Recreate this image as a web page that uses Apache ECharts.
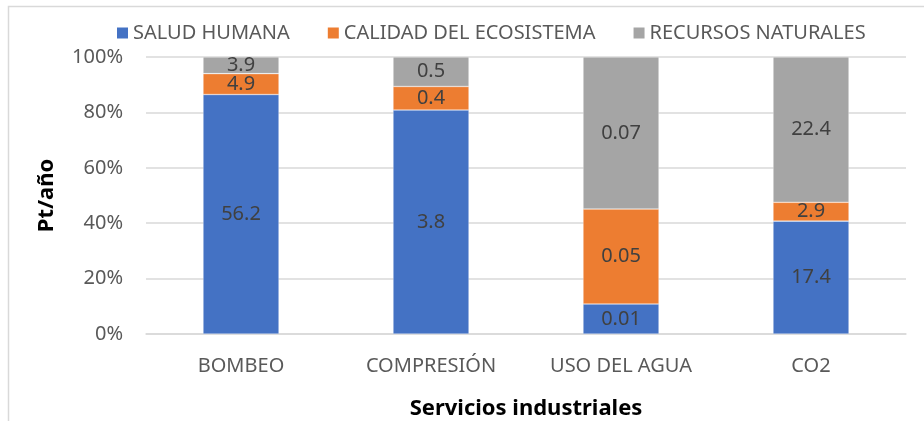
<!DOCTYPE html>
<html><head><meta charset="utf-8">
<script src="https://cdn.jsdelivr.net/npm/echarts@6/dist/echarts.min.js"></script>
<style>html,body{margin:0;padding:0;background:#fff}#c{width:924px;height:421px}</style>
</head><body><div id="c"></div>
<script>
const categories = ['BOMBEO', 'COMPRESIÓN', 'USO DEL AGUA', 'CO2'];
const saludHumana = [56.2, 3.8, 0.0146, 17.4];
const calidadEcosistema = [4.9, 0.4, 0.0462, 2.9];
const recursosNaturales = [3.9, 0.5, 0.074, 22.4];
const labelDecimals = [1, 1, 2, 1];
const seriesNames = ['SALUD HUMANA', 'CALIDAD DEL ECOSISTEMA', 'RECURSOS NATURALES'];
const yTicks = [0, 20, 40, 60, 80, 100];

const raw = [saludHumana, calidadEcosistema, recursosNaturales];
const totals = categories.map((_, i) => raw.reduce((s, a) => s + a[i], 0));
const colors = ['#4472C4', '#ED7D31', '#A5A5A5'];
const font = 'Noto Sans';

const series = raw.map((arr, k) => ({
  name: seriesNames[k],
  type: 'bar',
  stack: 'total',
  barWidth: '40%',
  itemStyle: { color: colors[k], borderColor: 'rgba(255,255,255,0.5)', borderWidth: 0.6 },
  label: {
    show: true, position: 'inside', color: '#404040', fontSize: 20, fontFamily: font,
    formatter: p => arr[p.dataIndex].toFixed(labelDecimals[p.dataIndex])
  },
  data: arr.map((v, i) => v / totals[i] * 100)
}));

const chart = echarts.init(document.getElementById('c'));
chart.setOption({
  animation: false,
  backgroundColor: '#fff',
  graphic: [{ type: 'rect', shape: { x: 8.5, y: 6.5, width: 1000, height: 1000 }, style: { fill: 'none', stroke: '#d9d9d9', lineWidth: 1.5 }, z: -10 }],
  legend: {
    top: 18, left: 112, itemWidth: 11, itemHeight: 11, itemGap: 38, itemStyle: { borderWidth: 0 },
    icon: 'rect',
    textStyle: { fontSize: 20, color: '#595959', fontFamily: font },
    data: seriesNames
  },
  grid: { left: 146, right: 18, top: 57, bottom: 87, containLabel: false, outerBoundsMode: 'none' },
  xAxis: {
    type: 'category', data: categories,
    axisLine: { lineStyle: { color: '#d9d9d9', width: 1.5 } },
    axisTick: { show: false },
    axisLabel: { color: '#595959', fontSize: 20, fontFamily: font, margin: 22 },
    name: 'Servicios industriales', nameLocation: 'middle', nameGap: 64,
    nameTextStyle: { fontSize: 22, fontWeight: 'bold', color: '#000', fontFamily: font }
  },
  yAxis: {
    type: 'value', min: 0, max: 100, interval: 20,
    axisLabel: { formatter: v => v + '%', color: '#595959', fontSize: 20, fontFamily: font, margin: 23 },
    splitLine: { lineStyle: { color: '#d9d9d9', width: 1.5 } },
    axisLine: { show: false }, axisTick: { show: false },
    name: 'Pt/año', nameLocation: 'middle', nameGap: 88,
    nameTextStyle: { fontSize: 22, fontWeight: 'bold', color: '#000', fontFamily: font }
  },
  series: series
});
</script></body></html>
